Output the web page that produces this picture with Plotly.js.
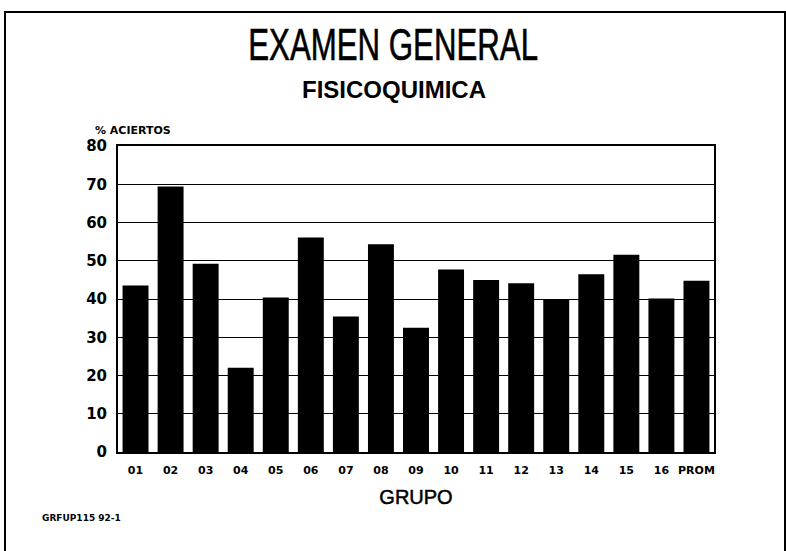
<!DOCTYPE html>
<html>
<head>
<meta charset="utf-8">
<script src="https://cdn.plot.ly/plotly-3.0.1.min.js"></script>
<style>
html,body{margin:0;padding:0;background:#fff;}
#chart{width:786px;height:551px;}
</style>
</head>
<body>
<div id="chart"></div>
<script>
const grupos = ["01","02","03","04","05","06","07","08","09","10","11","12","13","14","15","16","PROM"];
const aciertos = [43.5, 69.4, 49.2, 22.0, 40.4, 56.1, 35.4, 54.3, 32.5, 47.7, 45.0, 44.1, 39.9, 46.5, 51.6, 40.1, 44.8];
const yTicks = [0,10,20,30,40,50,60,70,80];

const W = 786, H = 551;
const mL = 118, mR = 72, mT = 146, mB = 99;
const pw = W - mL - mR, ph = H - mT - mB;
const px = x => (x - mL) / pw;
const py = y => (H - mB - y) / ph;

const boldFont = "DejaVu Sans, Arial, sans-serif";
const sansFont = "Liberation Sans, Arial, sans-serif";

const data = [{
  type: "bar",
  x: grupos,
  y: aciertos,
  marker: {color: "#000", line: {width: 0}},
  hoverinfo: "skip"
}];

const layout = {
  width: W, height: H,
  margin: {l: mL, r: mR, t: mT, b: mB, pad: 0},
  paper_bgcolor: "#fff",
  plot_bgcolor: "#fff",
  showlegend: false,
  bargap: 0.26,
  xaxis: {
    type: "category",
    showline: true, linecolor: "#000", linewidth: 2, mirror: true,
    showgrid: false, ticks: "",
    ticklabelstandoff: 7,
    tickfont: {family: boldFont, size: 11, color: "#000", weight: "bold"},
    title: {text: "GRUPO", font: {family: sansFont, size: 20, color: "#000"}, standoff: 14},
    fixedrange: true
  },
  yaxis: {
    range: [0, 80],
    tickvals: yTicks,
    showline: true, linecolor: "#000", linewidth: 2, mirror: true,
    showgrid: true, gridcolor: "#000", gridwidth: 1,
    zeroline: false,
    ticks: "",
    ticklabelstandoff: 6,
    tickfont: {family: boldFont, size: 15, color: "#000", weight: "bold"},
    fixedrange: true
  },
  annotations: [
    {text: "EXAMEN GENERAL", xref: "paper", yref: "paper", x: px(393), y: py(44), xanchor: "center", yanchor: "middle", showarrow: false,
     font: {family: sansFont, size: 44, color: "#000"}},
    {text: "FISICOQUIMICA", xref: "paper", yref: "paper", x: px(394), y: py(89), xanchor: "center", yanchor: "middle", showarrow: false,
     font: {family: sansFont, size: 24, color: "#000", weight: "bold"}},
    {text: "% ACIERTOS", xref: "paper", yref: "paper", x: px(93), y: py(130), xanchor: "left", yanchor: "middle", showarrow: false,
     font: {family: boldFont, size: 11, color: "#000", weight: "bold"}},
    {text: "GRFUP115 92-1", xref: "paper", yref: "paper", x: px(40), y: py(518), xanchor: "left", yanchor: "middle", showarrow: false,
     font: {family: boldFont, size: 9, color: "#000", weight: "bold"}}
  ],
  shapes: [
    {type: "rect", xref: "paper", yref: "paper", x0: px(5), x1: px(785), y0: py(553), y1: py(12),
     line: {color: "#000", width: 2}, fillcolor: "rgba(0,0,0,0)", layer: "below"}
  ]
};

Plotly.newPlot("chart", data, layout, {displayModeBar: false, staticPlot: true}).then(function(gd){
  // condense the main title horizontally (the original uses a condensed face)
  const t = gd.querySelector('.annotation[data-index="0"] text.annotation-text');
  if (t) {
    t.style.transformBox = "fill-box";
    t.style.transformOrigin = "center";
    t.style.transform = "scaleX(0.71)";
    t.style.stroke = "#000";
    t.style.strokeWidth = "0.6px";
  }
  const xt = gd.querySelector('.xtitle');
  if (xt) {
    xt.style.stroke = "#000";
    xt.style.strokeWidth = "0.5px";
  }
});
</script>
</body>
</html>
